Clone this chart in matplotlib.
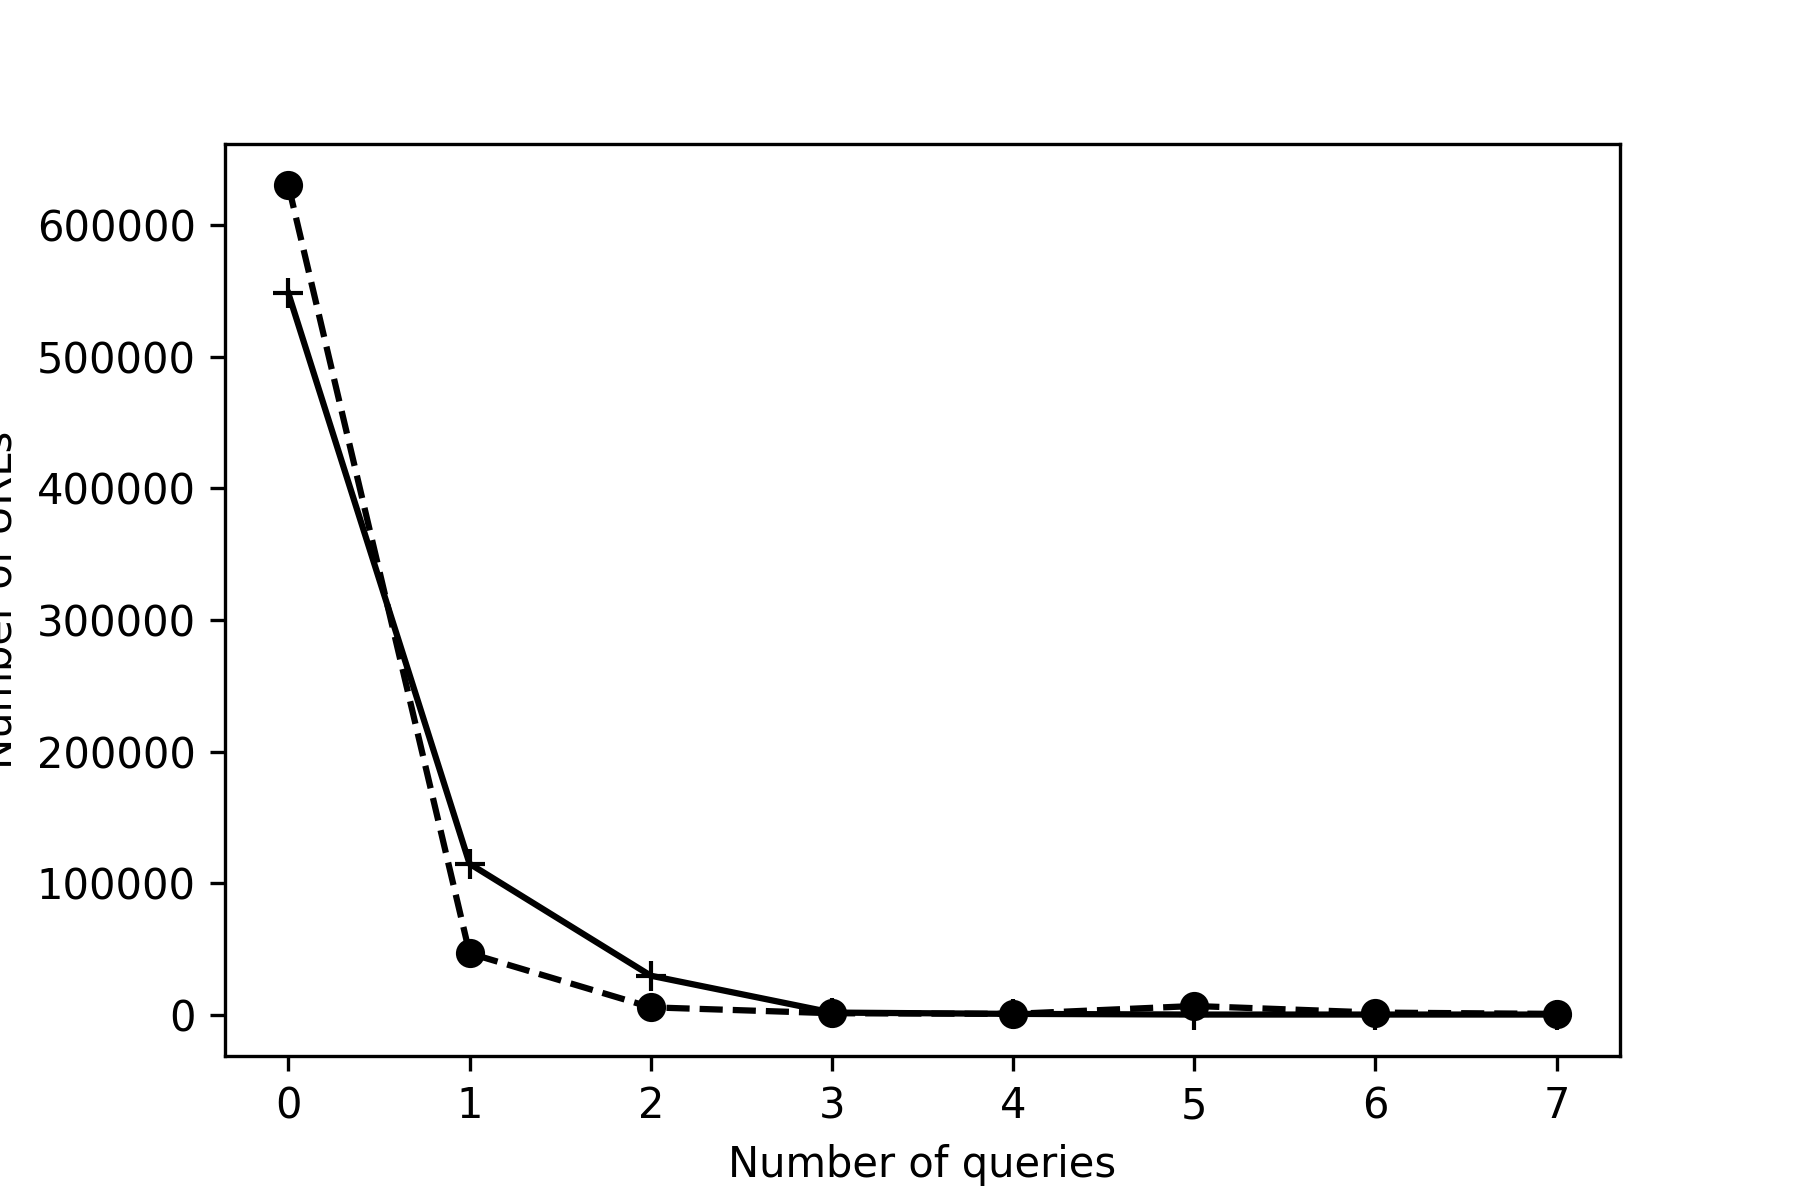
import matplotlib
matplotlib.use("Agg")
import matplotlib.pyplot as plt

queries = [0, 1, 2, 3, 4, 5, 6, 7]
series_plus = [548000, 115000, 30000, 2000, 1000, 500, 500, 500]
series_dot = [630000, 47000, 6000, 1500, 1000, 7000, 2000, 1000]

fig, ax = plt.subplots(figsize=(6, 4), dpi=300)
ax.plot(queries, series_plus, 'k-', marker='+', markersize=7)
ax.plot(queries, series_dot, 'k--', marker='o', markersize=6)
ax.set_xlabel("Number of queries")
ax.set_ylabel("Number of URLs")
ax.set_xticks(queries)
fig.subplots_adjust(left=0.125, right=0.9, top=0.88, bottom=0.12)
fig.savefig("out.png")
